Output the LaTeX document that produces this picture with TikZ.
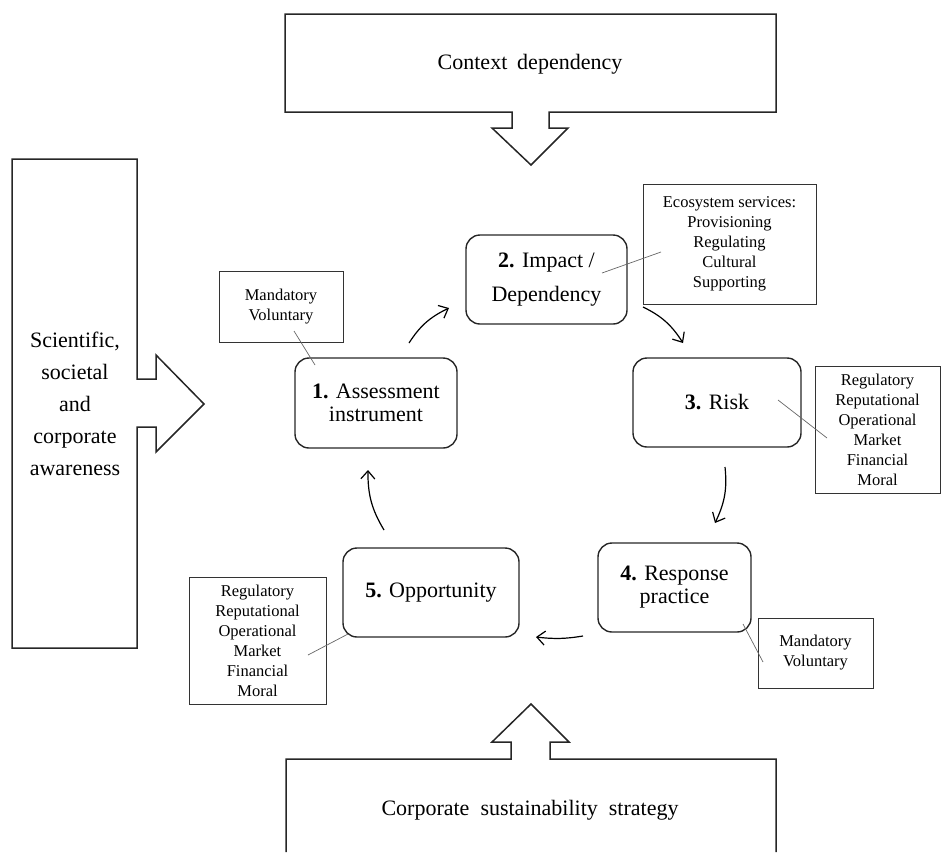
\documentclass[tikz,border=0pt]{standalone}
\usepackage{fontspec}
\setmainfont{Liberation Serif}
\usetikzlibrary{arrows.meta,bending}
\begin{document}
\begin{tikzpicture}[x=1pt,y=-1pt,
  block/.style={draw=black!85, line width=1.5pt},
  stage/.style={draw=black!85, line width=1.4pt, rounded corners=14pt, align=center, font=\fontsize{22}{23}\selectfont, inner sep=0pt},
  note/.style={draw=black!80, line width=0.8pt, align=center, font=\fontsize{16.5}{20}\selectfont, inner sep=0pt},
  leader/.style={draw=black!60, line width=0.7pt},
  cyc/.style={-{Straight Barb[length=8pt,width=14pt]}, line width=1.2pt, bend left=16},
  big/.style={font=\fontsize{22}{32}\selectfont, align=center, inner sep=0pt}
]
\useasboundingbox (0,0) rectangle (941,852);

% block arrows
\draw[block] (285,14) -- (776,14) -- (776,112) -- (549,112) -- (549,128) -- (568,128) -- (531,165) -- (492,128) -- (512,128) -- (512,112) -- (285,112) -- cycle;
\node[big] (ctx) at (530,64) {Context\hspace{0.45em}dependency};

\draw[block] (12,159) -- (137,159) -- (137,379) -- (156,379) -- (156,355) -- (204,404) -- (156,452) -- (156,427) -- (137,427) -- (137,648) -- (12,648) -- cycle;
\node[big] (aware) at (75,404) {Scientific,\\societal\\and\\corporate\\awareness};

\draw[block] (286,852) -- (286,759) -- (511,759) -- (511,742) -- (492,742) -- (531,704) -- (569,742) -- (550,742) -- (550,759) -- (776,759) -- (776,852);
\node[big] (css) at (530,810) {Corporate\hspace{0.5em}sustainability\hspace{0.5em}strategy};

% stages
\node[stage, minimum width=162pt, minimum height=90pt] (n1) at (376,403) {\textbf{1.} Assessment\\instrument};
\node[stage, minimum width=161pt, minimum height=89pt] (n2) at (546.5,279.5) {\textbf{2.} Impact /\\[11pt]Dependency};
\node[stage, minimum width=168pt, minimum height=89pt] (n3) at (717,402.5) {\textbf{3.} Risk};
\node[stage, minimum width=153pt, minimum height=89pt] (n4) at (674.5,587.5) {\textbf{4.} Response\\practice};
\node[stage, minimum width=176pt, minimum height=89pt] (n5) at (431,592.5) {\textbf{5.} Opportunity};

% notes
\node[note, minimum width=124pt, minimum height=71pt] (m1) at (281,306.5) {Mandatory\\Voluntary};
\node[note, minimum width=173pt, minimum height=120pt] (eco) at (729.5,244) {Ecosystem services:\\Provisioning\\Regulating\\Cultural\\Supporting};
\node[note, minimum width=125pt, minimum height=127pt] (risk) at (877.5,429.5) {Regulatory\\Reputational\\Operational\\Market\\Financial\\Moral};
\node[note, minimum width=115pt, minimum height=70pt] (m4) at (815.5,653) {Mandatory\\Voluntary};
\node[note, minimum width=137pt, minimum height=127pt] (opp) at (257.5,640.5) {Regulatory\\Reputational\\Operational\\Market\\Financial\\Moral};

% leader lines
\coordinate (l1a) at (294,331); \coordinate (l1b) at (315,365);
\coordinate (l2a) at (602,273); \coordinate (l2b) at (661,252);
\coordinate (l3a) at (778,400); \coordinate (l3b) at (827,438);
\coordinate (l4a) at (743,624); \coordinate (l4b) at (763,662);
\coordinate (l5a) at (308,655); \coordinate (l5b) at (348,634);
\draw[leader] (l1a) -- (l1b);
\draw[leader] (l2a) -- (l2b);
\draw[leader] (l3a) -- (l3b);
\draw[leader] (l4a) -- (l4b);
\draw[leader] (l5a) -- (l5b);

% cycle arrows
\coordinate (c12a) at (409,343); \coordinate (c12b) at (449,308);
\coordinate (c23a) at (643,307); \coordinate (c23b) at (683,343);
\coordinate (c34a) at (725,467); \coordinate (c34b) at (715,523);
\coordinate (c45a) at (583,636); \coordinate (c45b) at (536,637);
\coordinate (c51a) at (384,530); \coordinate (c51b) at (368,470);
\draw[cyc] (c12a) to (c12b);
\draw[cyc] (c23a) to (c23b);
\draw[cyc] (c34a) to (c34b);
\draw[cyc, bend left=8] (c45a) to (c45b);
\draw[cyc] (c51a) to (c51b);
\end{tikzpicture}
\end{document}
